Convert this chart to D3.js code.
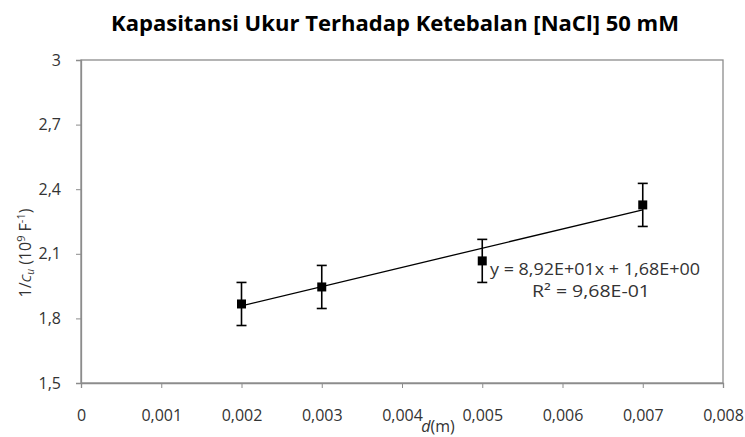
<!DOCTYPE html>
<html>
<head>
<meta charset="utf-8">
<script src="https://cdn.jsdelivr.net/npm/d3@7"></script>
<style>
  body { margin: 0; background: white; }
  text { font-family: "Open Sans", sans-serif; }
</style>
</head>
<body>
<svg></svg>
<script>
const thickness = [0.002, 0.003, 0.005, 0.007];
const invCap = [1.867, 1.946, 2.067, 2.327];
const errBar = [0.1, 0.1, 0.1, 0.1];
const slope = 89.2;
const intercept = 1.68;
const xTicks = [0, 0.001, 0.002, 0.003, 0.004, 0.005, 0.006, 0.007, 0.008];
const yTicks = [1.5, 1.8, 2.1, 2.4, 2.7, 3];

const width = 745, height = 437;
const plotLeft = 81, plotRight = 723, plotTop = 60, plotBottom = 383;

const svg = d3.select('svg').attr('width', width).attr('height', height);

const x = d3.scaleLinear().domain([0, 0.008]).range([plotLeft, plotRight]);
const y = d3.scaleLinear().domain([1.5, 3]).range([plotBottom, plotTop]);
const fmt = d => String(d).replace('.', ',');

// plot frame
svg.append('rect')
  .attr('x', plotLeft).attr('y', plotTop)
  .attr('width', plotRight - plotLeft).attr('height', plotBottom - plotTop)
  .style('fill', 'none').style('stroke', '#8c8c8c').style('stroke-width', 1.3);

// axes
const xAxis = svg.append('g')
  .attr('transform', `translate(0,${plotBottom})`)
  .call(d3.axisBottom(x).tickValues(xTicks).tickFormat(fmt).tickSize(5).tickPadding(22));
const yAxis = svg.append('g')
  .attr('transform', `translate(${plotLeft},0)`)
  .call(d3.axisLeft(y).tickValues(yTicks).tickFormat(fmt).tickSize(5).tickPadding(15));
[xAxis, yAxis].forEach(a => {
  a.select('.domain').style('stroke', '#8c8c8c').style('stroke-width', 1.3);
  a.selectAll('.tick line').style('stroke', '#8c8c8c');
  a.selectAll('.tick text').style('font-size', '16px').style('fill', '#333');
});

// trend line
svg.append('line')
  .attr('x1', x(thickness[0])).attr('y1', y(slope * thickness[0] + intercept))
  .attr('x2', x(thickness[3])).attr('y2', y(slope * thickness[3] + intercept))
  .style('stroke', 'black').style('stroke-width', 1.3);

// error bars
const pts = thickness.map((d, i) => ({ x: d, y: invCap[i], e: errBar[i] }));
const eb = svg.append('g').selectAll('g').data(pts).join('g')
  .style('stroke', 'black').style('stroke-width', 1.6);
eb.append('line')
  .attr('x1', d => x(d.x)).attr('x2', d => x(d.x))
  .attr('y1', d => y(d.y + d.e)).attr('y2', d => y(d.y - d.e));
eb.append('line')
  .attr('x1', d => x(d.x) - 5).attr('x2', d => x(d.x) + 5)
  .attr('y1', d => y(d.y + d.e)).attr('y2', d => y(d.y + d.e));
eb.append('line')
  .attr('x1', d => x(d.x) - 5).attr('x2', d => x(d.x) + 5)
  .attr('y1', d => y(d.y - d.e)).attr('y2', d => y(d.y - d.e));

// markers
svg.append('g').selectAll('rect').data(pts).join('rect')
  .attr('x', d => x(d.x) - 4.5).attr('y', d => y(d.y) - 4.5)
  .attr('width', 9).attr('height', 9)
  .style('fill', 'black');

// equation
svg.append('text')
  .attr('x', 490).attr('y', 275)
  .attr('textLength', 210).attr('lengthAdjust', 'spacingAndGlyphs')
  .style('font-size', '16.5px').style('fill', '#333')
  .text('y = 8,92E+01x + 1,68E+00');
svg.append('text')
  .attr('x', 532).attr('y', 297)
  .attr('textLength', 118).attr('lengthAdjust', 'spacingAndGlyphs')
  .style('font-size', '16.5px').style('fill', '#333')
  .text('R² = 9,68E-01');

// title
svg.append('text')
  .attr('x', 395).attr('y', 31)
  .attr('text-anchor', 'middle')
  .attr('textLength', 568).attr('lengthAdjust', 'spacingAndGlyphs')
  .style('font-size', '21px').style('font-weight', 'bold')
  .text('Kapasitansi Ukur Terhadap Ketebalan [NaCl] 50 mM');

// x label
const xl = svg.append('text')
  .attr('x', 438).attr('y', 432)
  .attr('text-anchor', 'middle')
  .style('font-size', '16px').style('fill', '#333');
xl.append('tspan').style('font-style', 'italic').text('d');
xl.append('tspan').text('(m)');

// y label
const yl = svg.append('text')
  .attr('transform', 'translate(31,253) rotate(-90)')
  .attr('text-anchor', 'middle')
  .style('font-size', '16px').style('fill', '#333');
yl.append('tspan').text('1/');
yl.append('tspan').style('font-style', 'italic').style('font-size', '13px').text('C');
yl.append('tspan').style('font-style', 'italic').style('font-size', '10px').attr('dy', 3).text('u');
yl.append('tspan').attr('dy', -3).text(' (10');
yl.append('tspan').style('font-size', '11px').attr('dy', -6).text('9');
yl.append('tspan').attr('dy', 6).text(' F');
yl.append('tspan').style('font-size', '11px').attr('dy', -6).text('-1');
yl.append('tspan').attr('dy', 6).text(')');
</script>
</body>
</html>
